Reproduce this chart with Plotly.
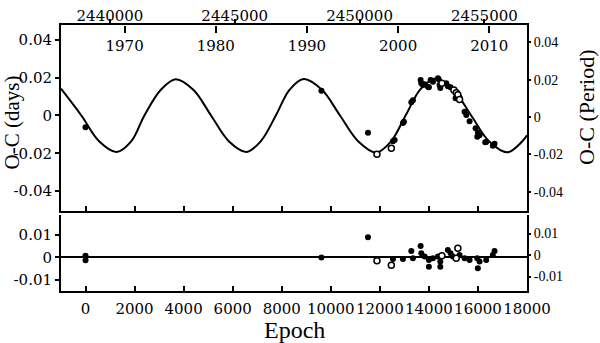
import plotly.graph_objects as go

# ---------------- data ----------------
# fitted O-C curve (days) read at key epochs
curve_epoch = [-1000, -170, 552, 1269, 1870, 2400, 3071, 3672, 4395, 5118, 5840, 6563,
               7147, 7760, 8316, 8900, 9638, 10375, 11113, 11850, 12450, 13050, 13650,
               14250, 14988, 15725, 16463, 17200, 17800, 18000]
curve_oc = [0.0142, 0.0, -0.0136, -0.0193, -0.0136, 0.0, 0.0136, 0.0192, 0.0136, 0.0,
            -0.0136, -0.0193, -0.0136, 0.0, 0.0136, 0.0193, 0.0136, 0.0, -0.0136, -0.0196,
            -0.0138, 0.0, 0.0138, 0.0196, 0.0138, 0.0, -0.0138, -0.0195, -0.0138, -0.0105]

# filled symbols (O-C, days)
filled_epoch = [0, 9618, 11516, 12534, 12603, 12941, 12983, 13283, 13349, 13663, 13690,
                13757, 13825, 13960, 14000, 14070, 14165, 14368, 14396, 14436, 14465,
                14709, 14774, 14884, 15088, 15251, 15455, 15524, 15658, 15903, 15972,
                15996, 16065, 16297, 16337, 16607, 16677]
filled_oc = [-0.0062, 0.0131, -0.0091, -0.0137, -0.0130, -0.0040, -0.0033, 0.0070, 0.0080,
             0.0188, 0.0170, 0.0161, 0.0165, 0.0152, 0.0150, 0.0188, 0.0179, 0.0197, 0.0192,
             0.0161, 0.0146, 0.0170, 0.0155, 0.0150, 0.0091, 0.0095, 0.0020, 0.0003, -0.0030,
             -0.0068, -0.0112, -0.0090, -0.0105, -0.0142, -0.0140, -0.0160, -0.0150]

# open symbols (O-C, days)
open_epoch = [11883, 12469, 14530, 15018, 15116, 15181, 15251]
open_oc = [-0.0205, -0.0174, 0.0170, 0.0135, 0.0120, 0.0110, 0.0085]

# residuals
res_filled_epoch = [0, 0, 9618, 11516, 12534, 12941, 13283, 13349, 13663, 13690, 13825,
                    14000, 14000, 14165, 14368, 14465, 14465, 14774, 14884, 14978, 15251,
                    15455, 15658, 15972, 15996, 16065, 16337, 16607, 16677]
res_filled = [0.0008, -0.0012, 0.0, 0.0090, -0.0007, -0.0007, 0.0029, -0.0003, 0.0051,
              0.0019, 0.0004, -0.0011, -0.0041, -0.0003, 0.0004, -0.0018, -0.0041, 0.0033,
              0.0019, 0.0004, 0.0011, -0.0003, -0.0011, -0.0003, -0.0048, -0.0018, -0.0011,
              0.0011, 0.0029]
res_open_epoch = [11883, 12469, 14530, 15116, 15181]
res_open = [-0.0014, -0.0034, 0.0008, -0.0003, 0.0041]

# axis ticks
epoch_ticks = [0, 2000, 4000, 6000, 8000, 10000, 12000, 14000, 16000, 18000]
jd_ticks = [2440000, 2445000, 2450000, 2455000]
year_ticks = [1970, 1980, 1990, 2000, 2010]
oc_ticks = [-0.04, -0.02, 0, 0.02, 0.04]
oc_labels = ["-0.04", "-0.02", "0", "0.02", "0.04"]
res_ticks = [-0.01, 0, 0.01]
res_labels = ["-0.01", "0", "0.01"]

# ephemeris used for the top axes
T0 = 2439021.5
PERIOD = 0.9826
E_RANGE = [-1000, 18000]
jd_range = [T0 + PERIOD * e for e in E_RANGE]
year_range = [2000 + (j - 2451544.5) / 365.25 for j in jd_range]

# ---------------- figure ----------------
BLACK = "black"
tick_font = dict(family="DejaVu Serif", size=15, color=BLACK)
right_font = dict(family="Liberation Serif", size=14, color=BLACK)

fig = go.Figure()
fig.add_trace(go.Scatter(x=curve_epoch, y=curve_oc, xaxis="x2", yaxis="y", mode="lines",
                         line=dict(color=BLACK, width=2, shape="spline", smoothing=1.0),
                         hoverinfo="skip"))
fig.add_trace(go.Scatter(x=filled_epoch, y=filled_oc, xaxis="x2", yaxis="y", mode="markers",
                         marker=dict(symbol="circle", size=6, color=BLACK)))
fig.add_trace(go.Scatter(x=open_epoch, y=open_oc, xaxis="x2", yaxis="y", mode="markers",
                         marker=dict(symbol="circle", size=6, color="white",
                                     line=dict(color=BLACK, width=1.5))))
fig.add_trace(go.Scatter(x=res_filled_epoch, y=res_filled, xaxis="x", yaxis="y2", mode="markers",
                         marker=dict(symbol="circle", size=6, color=BLACK)))
fig.add_trace(go.Scatter(x=res_open_epoch, y=res_open, xaxis="x", yaxis="y2", mode="markers",
                         marker=dict(symbol="circle", size=6, color="white",
                                     line=dict(color=BLACK, width=1.5))))
# empty traces so that the secondary axes are drawn
for xa, ya in [("x3", "y"), ("x4", "y"), ("x5", "y"), ("x2", "y3"), ("x", "y4")]:
    fig.add_trace(go.Scatter(x=[], y=[], xaxis=xa, yaxis=ya, mode="markers",
                             hoverinfo="skip"))

common_x = dict(showgrid=False, zeroline=False, linecolor=BLACK, linewidth=2,
                tickcolor=BLACK, tickwidth=2, automargin=False)

fig.update_layout(
    width=600, height=343,
    margin=dict(l=61, r=73, t=25, b=52, autoexpand=False),
    paper_bgcolor="white", plot_bgcolor="white",
    showlegend=False,
    # epoch axis (bottom panel)
    xaxis=dict(domain=[0, 1], anchor="y2", range=E_RANGE, tickvals=epoch_ticks,
               tickformat="d", tickangle=0, ticks="inside", ticklen=5, showline=True,
               tickfont=tick_font, ticklabelstandoff=3, **common_x),
    # epoch axis (top panel, no labels)
    xaxis2=dict(domain=[0, 1], anchor="y", range=E_RANGE, tickvals=epoch_ticks,
                ticks="inside", ticklen=5, showline=True, showticklabels=False, **common_x),
    # JD ticks
    xaxis3=dict(overlaying="x2", anchor="y", side="top", range=jd_range, tickvals=jd_ticks,
                ticks="outside", ticklen=4, showline=True, showticklabels=False, **common_x),
    # JD labels
    xaxis5=dict(overlaying="x2", anchor="y", side="top", range=jd_range, tickvals=jd_ticks,
                tickformat="d", tickangle=0, ticks="", showline=False, tickfont=tick_font,
                **common_x),
    # calendar years (ticks and labels hanging below the top frame)
    xaxis4=dict(overlaying="x2", anchor="free", position=1.0, side="bottom", range=year_range,
                tickvals=year_ticks, tickformat="d", tickangle=0, ticks="outside", ticklen=7,
                showline=False, tickfont=tick_font, **common_x),
    yaxis=dict(domain=[0.302, 1], anchor="x2", range=[-0.0504, 0.0479], tickvals=oc_ticks,
               ticktext=oc_labels, ticks="outside", ticklen=4, showline=True,
               tickfont=tick_font, **common_x),
    yaxis3=dict(overlaying="y", anchor="x2", side="right", range=[-0.0502, 0.0493],
                tickvals=oc_ticks, ticktext=oc_labels, ticks="outside", ticklen=2,
                showline=True, tickfont=right_font, **common_x),
    yaxis2=dict(domain=[0, 0.2857], anchor="x", range=[-0.0149, 0.0189], tickvals=res_ticks,
                ticktext=res_labels, ticks="outside", ticklen=4, showline=True,
                tickfont=tick_font, showgrid=False, zeroline=True, zerolinecolor=BLACK,
                zerolinewidth=2, linecolor=BLACK, linewidth=2, tickcolor=BLACK, tickwidth=2,
                automargin=False),
    yaxis4=dict(overlaying="y2", anchor="x", side="right", range=[-0.0167, 0.0186],
                tickvals=res_ticks, ticktext=res_labels, ticks="outside", ticklen=2,
                showline=True, tickfont=right_font, **common_x),
    annotations=[
        dict(text="O-C (days)", xref="paper", yref="paper", x=-0.1062, y=0.6316,
             textangle=-90, showarrow=False, xanchor="center", yanchor="middle",
             font=dict(family="Liberation Serif", size=21, color=BLACK)),
        dict(text="O-C (Period)", xref="paper", yref="paper", x=1.1266, y=0.6917,
             textangle=-90, showarrow=False, xanchor="center", yanchor="middle",
             font=dict(family="Liberation Serif", size=22, color=BLACK)),
        dict(text="Epoch", xref="paper", yref="paper", x=0.5, y=-0.148,
             showarrow=False, xanchor="center", yanchor="middle",
             font=dict(family="Liberation Serif", size=24, color=BLACK)),
    ],
)

fig.write_html("out.html",
               config={"displayModeBar": False},
               post_script="document.body.style.margin='0px';"
                           "document.body.style.padding='0px';")
